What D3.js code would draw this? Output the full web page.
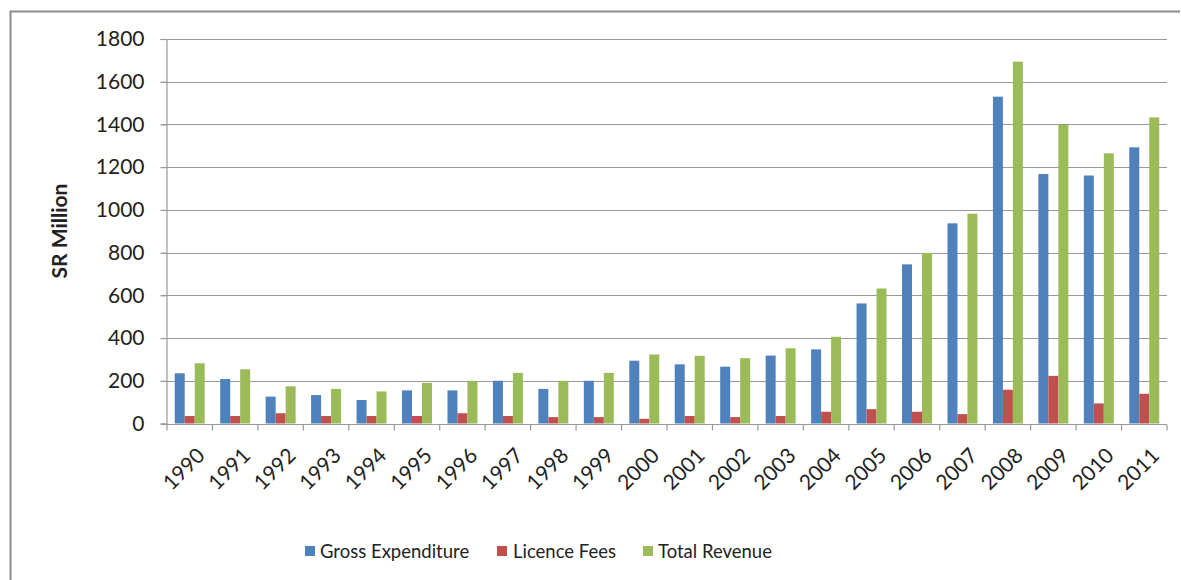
<!DOCTYPE html>
<html>
<head>
<meta charset="utf-8">
<script src="https://cdn.jsdelivr.net/npm/d3@7"></script>
<style>
  html, body { margin: 0; padding: 0; background: #fff; }
  svg { display: block; }
  text { font-family: Lato, "Open Sans", sans-serif; fill: #222; }
</style>
</head>
<body>
<script>
// Annual figures, SR Million
const years = ["1990","1991","1992","1993","1994","1995","1996","1997","1998","1999","2000",
               "2001","2002","2003","2004","2005","2006","2007","2008","2009","2010","2011"];
const grossExpenditure = [235,208,126,133,110,155,155,200,162,200,294,277,266,318,347,562,745,937,1530,1168,1161,1293];
const licenceFees      = [35,35,48,35,35,35,48,35,30,30,22,35,30,35,55,67,55,44,158,223,94,139];
const totalRevenue     = [282,254,174,162,150,190,200,237,200,237,323,317,306,352,406,632,799,982,1694,1399,1265,1433];
const seriesNames  = ["Gross Expenditure","Licence Fees","Total Revenue"];
const seriesColors = ["#4F81BD","#C0504D","#9BBB59"];
const yTicks = [0,200,400,600,800,1000,1200,1400,1600,1800];

const W = 1181, H = 580;
const plot = { left: 167, right: 1167, top: 39, bottom: 423.5 };

const svg = d3.select("body").append("svg").attr("width", W).attr("height", H);

// chart frame
svg.append("line").attr("x1", 10.5).attr("x2", 10.5).attr("y1", 11).attr("y2", H)
  .attr("stroke", "#8c8c8c").attr("stroke-width", 2);
svg.append("line").attr("x1", 10).attr("x2", 1180).attr("y1", 11.5).attr("y2", 11.5)
  .attr("stroke", "#8c8c8c").attr("stroke-width", 2);

const x0 = d3.scaleBand().domain(years).range([plot.left, plot.right]).paddingInner(0).paddingOuter(0);
const x1 = d3.scaleBand().domain(seriesNames).range([0, x0.bandwidth()]).paddingInner(0).paddingOuter(0.775);
const y = d3.scaleLinear().domain([0, 1800]).range([plot.bottom, plot.top]);

// horizontal gridlines
svg.append("g").selectAll("line").data(yTicks.filter(d => d > 0)).join("line")
  .attr("x1", plot.left - 6).attr("x2", plot.right)
  .attr("y1", d => Math.round(y(d)) + 0.5).attr("y2", d => Math.round(y(d)) + 0.5)
  .attr("stroke", "#999").attr("stroke-width", 1.2);

// y axis
const yAxis = d3.axisLeft(y).tickValues(yTicks).tickSize(6).tickPadding(16).tickFormat(d3.format("d"));
const gy = svg.append("g").attr("transform", `translate(${plot.left - 0.5},0)`).call(yAxis);
gy.select(".domain").attr("stroke", "#999").attr("stroke-width", 1.2);
gy.selectAll(".tick line").attr("stroke", "#999").attr("stroke-width", 1.2);
gy.selectAll(".tick text").style("font-size", "21px").style("font-family", "Lato, sans-serif").attr("fill", "#222");

// bars
const seriesData = [grossExpenditure, licenceFees, totalRevenue];
const groups = svg.append("g").selectAll("g").data(years).join("g")
  .attr("transform", d => `translate(${x0(d)},0)`);
groups.selectAll("rect")
  .data((yr, i) => seriesNames.map((name, s) => ({ name, s, value: seriesData[s][i] })))
  .join("rect")
  .attr("x", d => x1(d.name))
  .attr("width", x1.bandwidth())
  .attr("y", d => y(d.value))
  .attr("height", d => y(0) - y(d.value))
  .attr("fill", d => seriesColors[d.s]);

// x axis
const gx = svg.append("g").attr("transform", `translate(0,${Math.round(plot.bottom) + 0.5})`);
gx.append("line").attr("x1", plot.left - 6).attr("x2", plot.right).attr("stroke", "#999").attr("stroke-width", 1.2);
gx.selectAll("line.tk").data(d3.range(years.length + 1)).join("line").attr("class", "tk")
  .attr("x1", i => plot.left + i * x0.step()).attr("x2", i => plot.left + i * x0.step())
  .attr("y1", 0).attr("y2", 6).attr("stroke", "#999").attr("stroke-width", 1.2);
gx.selectAll("text").data(years).join("text")
  .attr("transform", d => `translate(${x0(d) + x0.bandwidth() / 2 + 6},${22}) rotate(-45)`)
  .attr("text-anchor", "end")
  .attr("dy", "0.7em")
  .style("font-size", "21px")
  .text(d => d);

// y axis title
svg.append("text")
  .attr("transform", `translate(67,${231}) rotate(-90)`)
  .attr("text-anchor", "middle")
  .style("font-size", "21px").style("font-weight", "bold")
  .text("SR Million");

// legend
const legendItems = [{ x: 305, tx: 320 }, { x: 497, tx: 513 }, { x: 643, tx: 658 }];
const lg = svg.append("g").selectAll("g").data(seriesNames).join("g");
lg.append("rect").attr("x", (d, i) => legendItems[i].x).attr("y", 546)
  .attr("width", 10).attr("height", 10).attr("fill", (d, i) => seriesColors[i]);
lg.append("text").attr("x", (d, i) => legendItems[i].tx).attr("y", 558)
  .style("font-size", "18.5px").text(d => d);
</script>
</body>
</html>
